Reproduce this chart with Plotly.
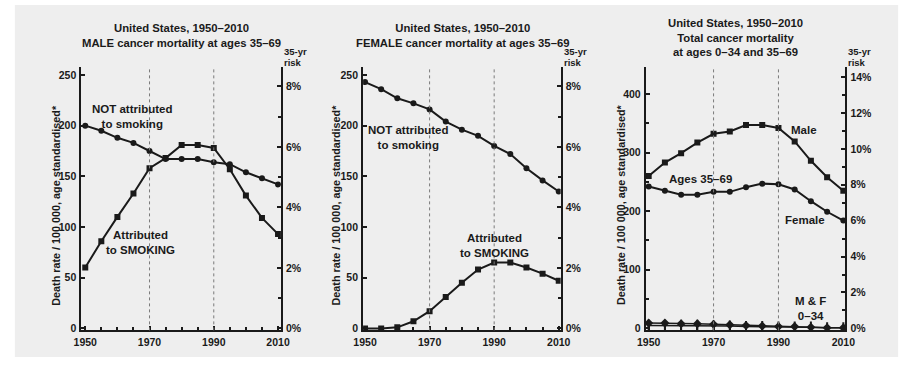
import plotly.graph_objects as go

# ---------------- data ----------------
years = [1950, 1955, 1960, 1965, 1970, 1975, 1980, 1985, 1990, 1995, 2000, 2005, 2010]
marked_years = [1970, 1990]
year_ticks = [1950, 1970, 1990, 2010]

male_not_smoking = [200, 195, 188, 183, 175, 167, 167, 167, 164, 162, 154, 148, 142]
male_smoking = [60, 86, 110, 133, 158, 168, 181, 181, 178, 157, 131, 109, 93]

female_not_smoking = [243, 236, 227, 222, 216, 204, 196, 190, 180, 172, 158, 146, 135]
female_smoking = [0, 0, 1, 7, 17, 31, 45, 58, 65, 65, 60, 54, 47]

male_35_69 = [260, 283, 299, 317, 332, 336, 347, 347, 342, 319, 286, 258, 235]
female_35_69 = [242, 235, 228, 228, 233, 233, 241, 247, 246, 237, 217, 199, 184]
mf_0_34_upper = [9, 9, 8, 8, 7, 6, 5, 4, 3, 3, 2, 1, 1]
mf_0_34_lower = [5, 5, 5, 5, 4, 4, 3, 3, 2, 2, 2, 1, 1]

titles = [
    "United States, 1950\u20132010<br>MALE cancer mortality at ages 35\u201369",
    "United States, 1950\u20132010<br>FEMALE cancer mortality at ages 35\u201369",
    "United States, 1950\u20132010<br>Total cancer mortality<br>at ages 0\u201334 and 35\u201369",
]
ytitle = "Death rate / 100 000, age standardised*"

# ---------------- layout helpers ----------------
W, H = 913, 367
def fx(p):
    return p / W
def fy(p):
    return 1 - p / H

FONT = "Liberation Sans"
INK = "#1a1a1a"
TOP, BOT = 68, 334

panels = [
    dict(x0=73, x1=277, xr=[1948.8, 2010.9], yl=[-1.95, 257.6], yr=[-0.065, 8.63],
         ldt=50, lminor=None, rdt=2, title_x=175, title_y=36, ytx=47),
    dict(x0=361, x1=563, xr=[1949.4, 2010.6], yl=[-1.95, 257.6], yr=[-0.065, 8.63],
         ldt=50, lminor=None, rdt=2, title_x=463, title_y=36, ytx=333),
    dict(x0=650, x1=854, xr=[1949.1, 2010.6], yl=[-3.4, 445.6], yr=[-0.11, 14.55],
         ldt=100, lminor=50, rdt=2, title_x=742, title_y=38, ytx=624),
]

fig = go.Figure()

def line_trace(xa, ya, y, symbol, size=6):
    return go.Scatter(
        x=years, y=y, xaxis=xa, yaxis=ya, mode="lines+markers",
        line=dict(color=INK, width=2),
        marker=dict(symbol=symbol, size=size, color=INK, line=dict(width=0)),
        hoverinfo="skip", showlegend=False,
    )

fig.add_trace(line_trace("x", "y", male_not_smoking, "circle"))
fig.add_trace(line_trace("x", "y", male_smoking, "square"))
fig.add_trace(line_trace("x2", "y3", female_not_smoking, "circle"))
fig.add_trace(line_trace("x2", "y3", female_smoking, "square"))
fig.add_trace(line_trace("x3", "y5", male_35_69, "square"))
fig.add_trace(line_trace("x3", "y5", female_35_69, "circle"))
fig.add_trace(go.Scatter(
    x=years, y=mf_0_34_lower, xaxis="x3", yaxis="y5", mode="lines+markers",
    line=dict(color=INK, width=1.5),
    marker=dict(symbol="line-ns-open", size=8, color=INK, line=dict(width=2, color=INK)),
    hoverinfo="skip", showlegend=False))
fig.add_trace(go.Scatter(
    x=years, y=mf_0_34_upper, xaxis="x3", yaxis="y5", mode="lines+markers",
    line=dict(color=INK, width=1.5),
    marker=dict(symbol="diamond", size=7, color=INK),
    hoverinfo="skip", showlegend=False))
# dummy traces so the right axes are drawn
for i, ya in enumerate(["y2", "y4", "y6"]):
    fig.add_trace(go.Scatter(x=[None], y=[None], xaxis=["x", "x2", "x3"][i], yaxis=ya,
                             mode="markers", showlegend=False, hoverinfo="skip"))

tickfont = dict(family=FONT, size=10.5, color=INK, weight="bold")
layout = dict(
    width=W, height=H, margin=dict(l=0, r=0, t=0, b=0), autosize=False,
    paper_bgcolor="white", plot_bgcolor="rgba(0,0,0,0)", showlegend=False,
    font=dict(family=FONT, color=INK),
)

shapes = [dict(type="rect", xref="paper", yref="paper", x0=fx(5), x1=fx(908),
               y0=fy(361), y1=fy(5), fillcolor="#eeeeee", line=dict(width=0), layer="below")]
annotations = []

for i, p in enumerate(panels):
    n = i + 1
    xname = "xaxis" if n == 1 else f"xaxis{n}"
    xref = "x" if n == 1 else f"x{n}"
    yl_n = 2 * i + 1
    yr_n = 2 * i + 2
    ylname = "yaxis" if yl_n == 1 else f"yaxis{yl_n}"
    ylref = "y" if yl_n == 1 else f"y{yl_n}"
    yrname = f"yaxis{yr_n}"
    ydom = [fy(BOT), fy(TOP)]
    layout[xname] = dict(
        domain=[fx(p["x0"]), fx(p["x1"])], range=p["xr"], anchor=ylref,
        tickmode="array", tickvals=year_ticks, ticks="inside", ticklen=4, tickwidth=1.5,
        tickcolor=INK, minor=dict(tickmode="array", tickvals=years, ticks="inside",
                                  ticklen=3, tickwidth=1.5, tickcolor=INK),
        showline=True, linecolor=INK, linewidth=2, showgrid=False, zeroline=False,
        tickfont=tickfont, ticklabelstandoff=1, fixedrange=True,
    )
    lminor = dict(dtick=p["lminor"], ticks="inside", ticklen=3, tickcolor=INK) if p["lminor"] else None
    yl = dict(
        domain=ydom, range=p["yl"], anchor=xref, tickmode="linear", tick0=0, dtick=p["ldt"],
        ticks="inside", ticklen=4, tickwidth=1.5, tickcolor=INK,
        showline=True, linecolor=INK, linewidth=2, showgrid=False, zeroline=False,
        tickfont=tickfont, ticklabelstandoff=1, fixedrange=True,
    )
    if lminor:
        yl["minor"] = lminor
    layout[ylname] = yl
    layout[yrname] = dict(
        domain=ydom, range=p["yr"], anchor=xref, overlaying=ylref, side="right",
        tickmode="linear", tick0=0, dtick=p["rdt"], ticksuffix="%",
        ticks="inside", ticklen=4, tickwidth=1.5, tickcolor=INK,
        minor=dict(dtick=1, ticks="inside", ticklen=3, tickcolor=INK),
        showline=True, linecolor=INK, linewidth=2, showgrid=False, zeroline=False,
        tickfont=tickfont, ticklabelstandoff=1, fixedrange=True,
    )
    for yr in marked_years:
        shapes.append(dict(type="line", xref=xref, yref="paper", x0=yr, x1=yr,
                           y0=fy(BOT), y1=fy(TOP), line=dict(color="#7a7a7a", width=1, dash="dot")))
    annotations.append(dict(xref="paper", yref="paper", x=fx(p["title_x"]), y=fy(p["title_y"]),
                            text=titles[i], showarrow=False, xanchor="center", yanchor="middle",
                            font=dict(family=FONT, size=11.3, color=INK, weight="bold")))
    annotations.append(dict(xref="paper", yref="paper", x=fx(p["ytx"]), y=fy(207),
                            text=ytitle, textangle=-90, showarrow=False,
                            xanchor="center", yanchor="middle",
                            font=dict(family=FONT, size=10.8, color=INK, weight="bold")))
    annotations.append(dict(xref="paper", yref="paper", x=fx(p["x1"] + 1), y=fy(52),
                            text="35-yr", showarrow=False, xanchor="left", yanchor="middle",
                            font=dict(family=FONT, size=9.5, color=INK, weight="bold")))
    annotations.append(dict(xref="paper", yref="paper", x=fx(p["x1"] + 1), y=fy(63),
                            text="risk", showarrow=False, xanchor="left", yanchor="middle",
                            font=dict(family=FONT, size=9.5, color=INK, weight="bold")))

labels = [
    ("NOT attributed<br>to smoking", 125, 118),
    ("Attributed<br>to SMOKING", 133, 245),
    ("NOT attributed<br>to smoking", 407, 139),
    ("Attributed<br>to SMOKING", 495, 248),
    ("Male", 812, 131),
    ("Ages 35\u201369", 706, 181),
    ("Female", 813, 222),
    ("M &amp; F<br>0\u201334", 818, 312),
]
for text, x, y in labels:
    annotations.append(dict(xref="paper", yref="paper", x=fx(x), y=fy(y), text=text,
                            showarrow=False, xanchor="center", yanchor="middle",
                            font=dict(family=FONT, size=11.5, color=INK, weight="bold")))

layout["shapes"] = shapes
layout["annotations"] = annotations
fig.update_layout(**layout)

fig.write_html("out.html", config={"displayModeBar": False},
               post_script="document.body.style.margin='0';")
